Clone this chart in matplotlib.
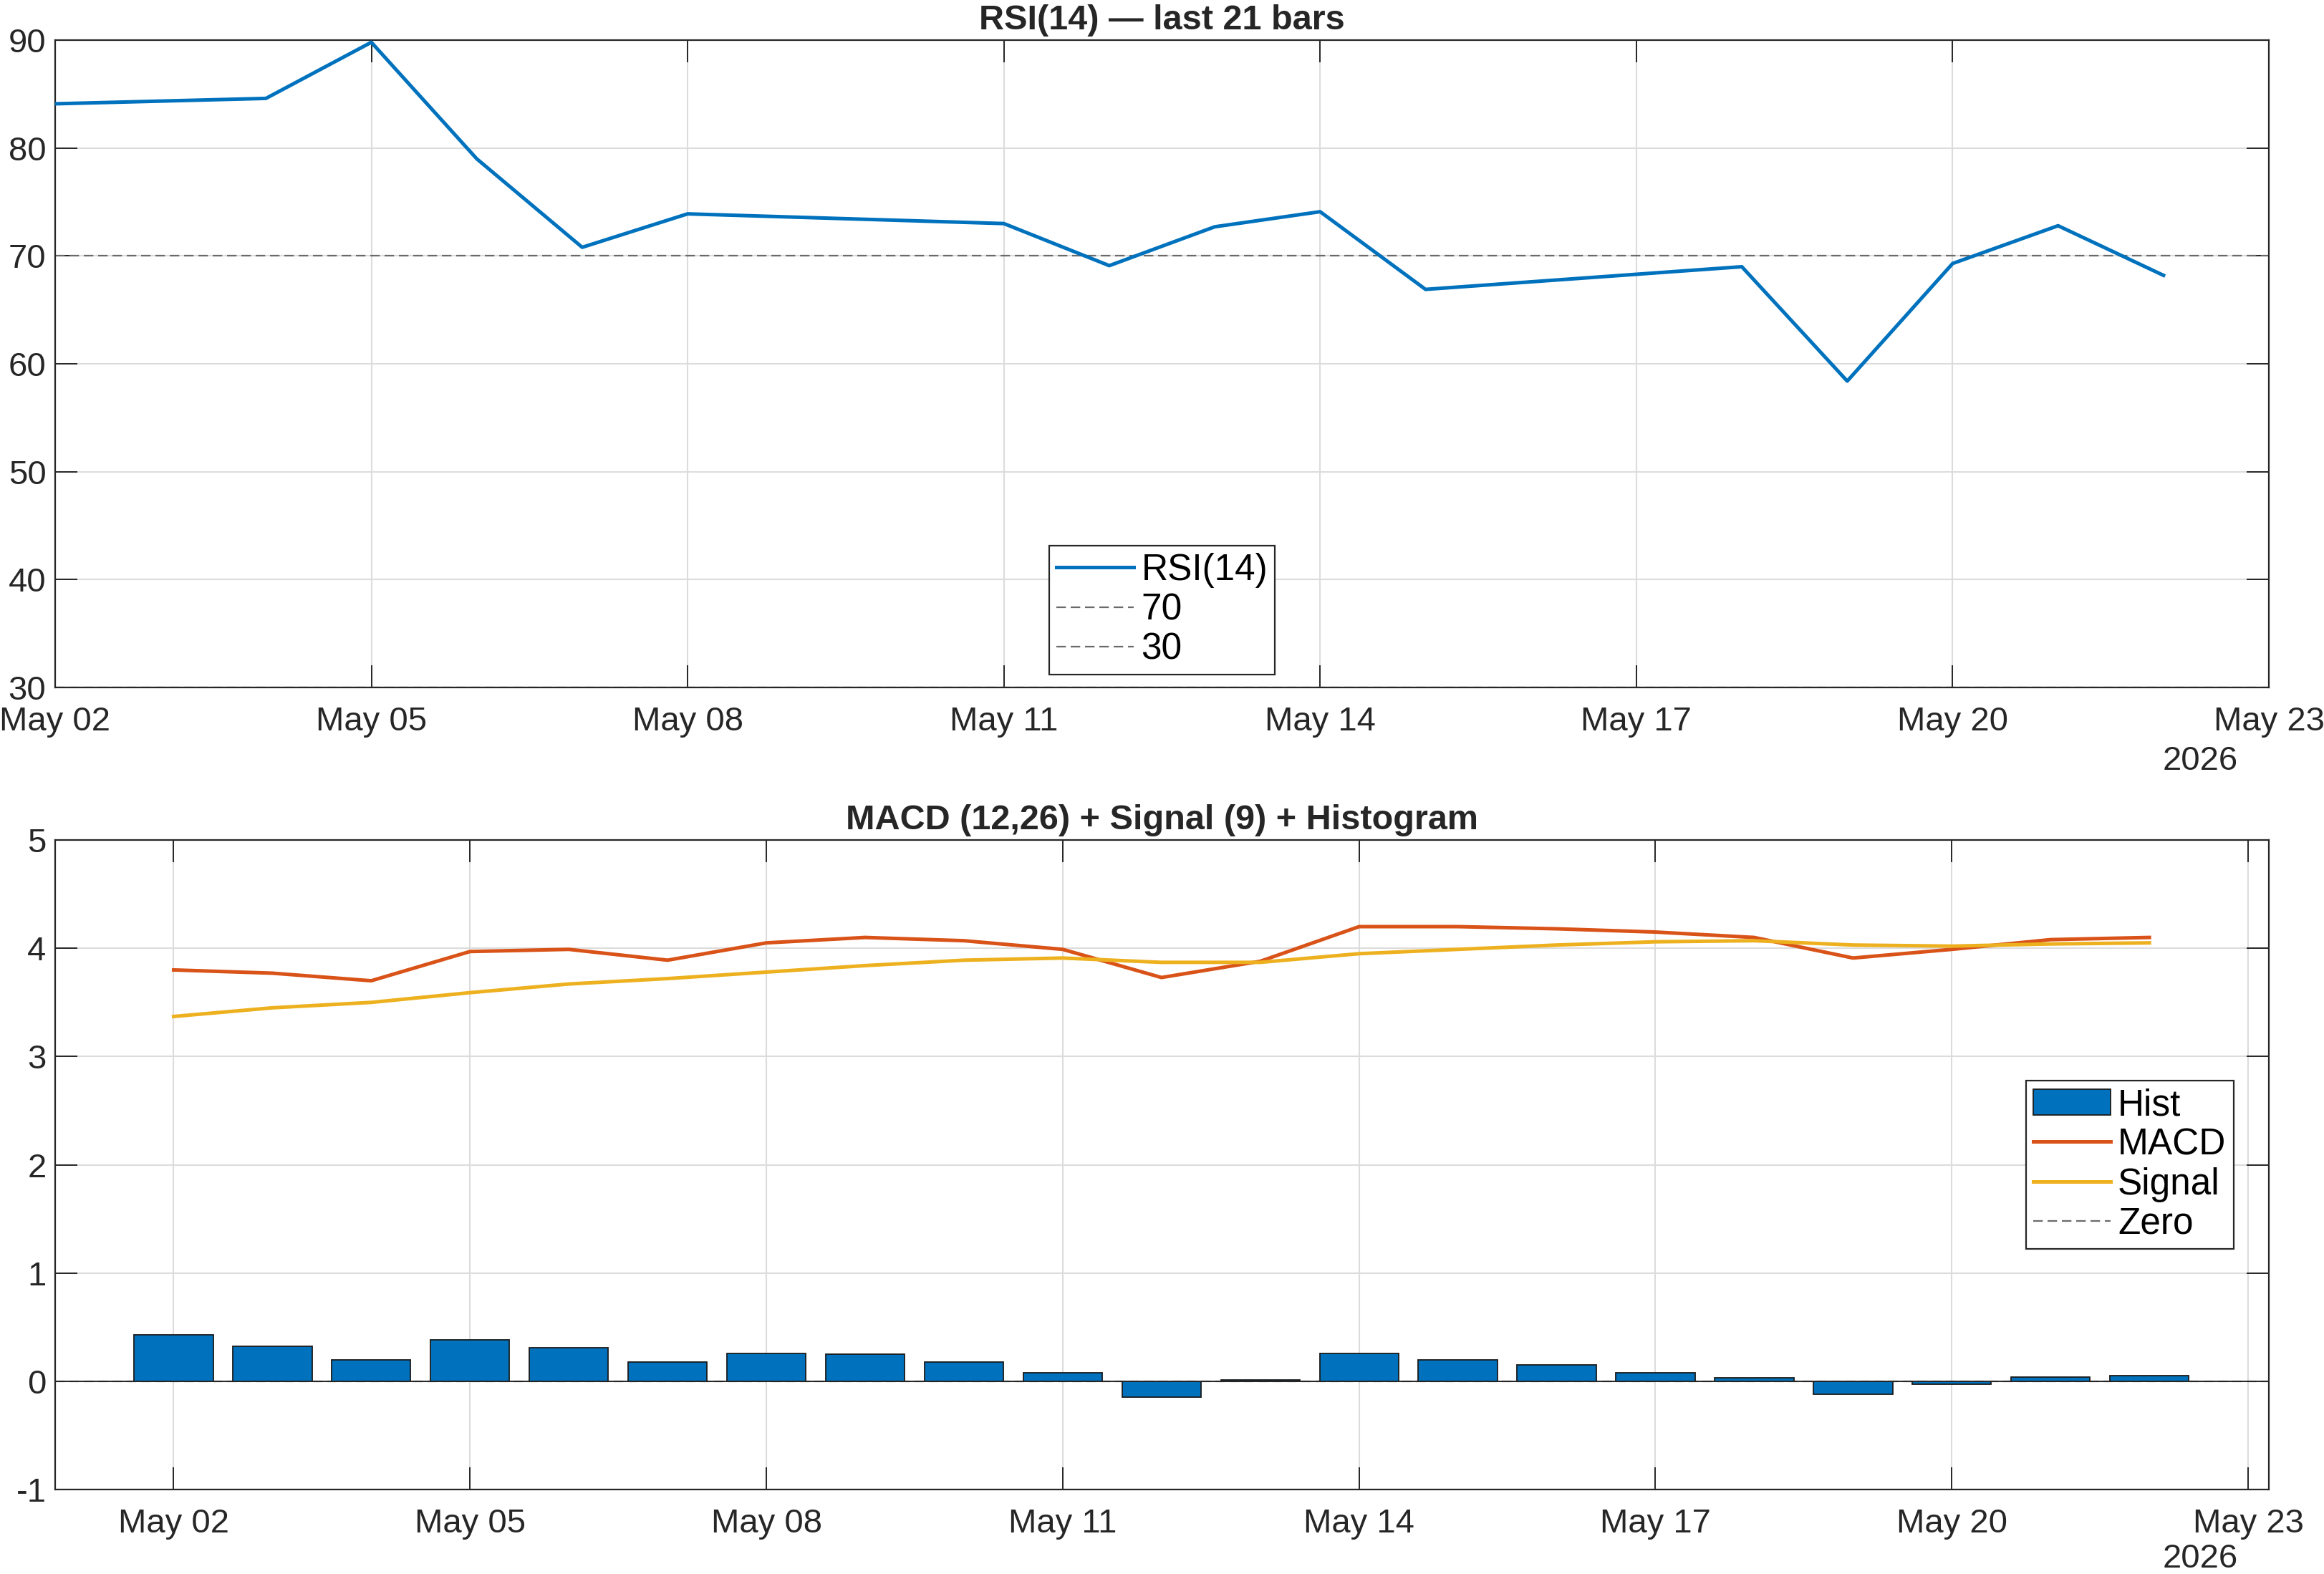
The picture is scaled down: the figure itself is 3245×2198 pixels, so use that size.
import matplotlib
matplotlib.use("Agg")
import matplotlib.pyplot as plt
import matplotlib.dates as mdates
from datetime import datetime, timedelta

plt.rcParams['font.family'] = ['Liberation Sans', 'DejaVu Sans']
plt.rcParams['axes.unicode_minus'] = False

# ── data ──────────────────────────────────────────────
rsi_days = [2, 4, 5, 6, 7, 8, 11, 12, 13, 14, 15, 18, 19, 20, 21, 22]
rsi_vals = [84.1, 84.6, 89.8, 79.0, 70.8, 73.9, 73.0, 69.1, 72.7, 74.1,
            66.9, 69.0, 58.4, 69.3, 72.8, 68.2]

macd_days = list(range(2, 23))
macd_vals = [3.80, 3.77, 3.70, 3.97, 3.99, 3.89, 4.05, 4.10, 4.07, 3.99, 3.73,
             3.88, 4.20, 4.20, 4.18, 4.15, 4.10, 3.91, 3.99, 4.08, 4.10]
signal_vals = [3.37, 3.45, 3.50, 3.59, 3.67, 3.72, 3.78, 3.84, 3.89, 3.91, 3.87,
               3.87, 3.95, 3.99, 4.03, 4.06, 4.07, 4.03, 4.02, 4.04, 4.05]
hist_vals = [0.43, 0.32, 0.20, 0.38, 0.31, 0.18, 0.26, 0.25, 0.18, 0.08, -0.15,
             0.01, 0.26, 0.20, 0.15, 0.08, 0.03, -0.12, -0.03, 0.04, 0.05]

tick_days = [2, 5, 8, 11, 14, 17, 20, 23]

BLUE = '#0072BD'
ORANGE = '#D95319'
YELLOW = '#EDB120'
DARK = '#262626'
GRID = '#dcdcdc'
DASH = (0, (6, 3))

def d(day):
    return datetime(2026, 5, day)

rsi_x = [d(k) for k in rsi_days]
macd_x = [d(k) for k in macd_days]
ticks = [d(k) for k in tick_days]

fig = plt.figure(figsize=(32.45, 21.98), dpi=100)
ax1 = fig.add_axes([0.0237, 0.5632, 0.9526, 0.4113])
ax2 = fig.add_axes([0.0237, 0.0537, 0.9526, 0.4126])


def style(ax, year_off):
    ax.grid(True, color=GRID, linewidth=1.5)
    ax.set_axisbelow(True)
    for s in ax.spines.values():
        s.set_color(DARK)
        s.set_linewidth(1.6)
    ax.tick_params(direction='in', length=22, width=1.4, colors=DARK,
                   labelsize=34, top=True, right=True)
    ax.tick_params(axis='x', pad=19)
    ax.tick_params(axis='y', pad=9)
    ax.set_xticks(ticks)
    ax.xaxis.set_major_formatter(mdates.DateFormatter('%b %d'))
    ax.annotate('2026', xy=(0.986, 0), xycoords='axes fraction',
                xytext=(0, year_off), textcoords='offset points',
                ha='right', va='center', fontsize=34, color=DARK)


def legend(ax, handles, **kw):
    leg = ax.legend(handles=handles, fontsize=37, frameon=True, fancybox=False,
                    framealpha=1, edgecolor=DARK, handlelength=2.1,
                    handletextpad=0.2, labelspacing=0.12, borderpad=0.2,
                    borderaxespad=0, **kw)
    leg.get_frame().set_linewidth(1.6)
    return leg


# ── RSI ───────────────────────────────────────────────
l_rsi, = ax1.plot(rsi_x, rsi_vals, color=BLUE, linewidth=3.6, label='RSI(14)', zorder=3)
l_70 = ax1.axhline(70, color='#6a6a6a', linestyle=DASH, linewidth=1.6, label='70')
l_30 = ax1.axhline(30, color='#6a6a6a', linestyle=DASH, linewidth=1.6, label='30')
ax1.set_xlim(d(2), d(23))
ax1.set_ylim(30, 90)
ax1.set_yticks(range(30, 91, 10))
style(ax1, -74)
ax1.set_title('RSI(14) — last 21 bars', fontsize=35, fontweight='bold',
              color=DARK, pad=11)
legend(ax1, [l_rsi, l_70, l_30], loc='lower center', bbox_to_anchor=(0.5, 0.02))

# ── MACD ──────────────────────────────────────────────
b_hist = ax2.bar(macd_x, hist_vals, width=0.8, color=BLUE, edgecolor='#1a1a1a',
                 linewidth=1.3, label='Hist', zorder=2)
l_macd, = ax2.plot(macd_x, macd_vals, color=ORANGE, linewidth=3.6, label='MACD', zorder=3)
l_sig, = ax2.plot(macd_x, signal_vals, color=YELLOW, linewidth=3.6, label='Signal', zorder=3)
l_zero = ax2.axhline(0, color='#6a6a6a', linestyle=DASH, linewidth=1.6,
                     label='Zero', zorder=1)
ax2.axhline(0, color=DARK, linewidth=1.4, zorder=2.5)
ax2.set_xlim(d(2) - timedelta(days=1.2), d(23) + timedelta(days=0.21))
ax2.set_ylim(-1, 5)
ax2.set_yticks(range(-1, 6))
style(ax2, -70)
ax2.set_title('MACD (12,26) + Signal (9) + Histogram', fontsize=35,
              fontweight='bold', color=DARK, pad=11)
legend(ax2, [b_hist, l_macd, l_sig, l_zero], loc='center right',
       bbox_to_anchor=(0.984, 0.5))

fig.savefig('out.png', dpi=100)
